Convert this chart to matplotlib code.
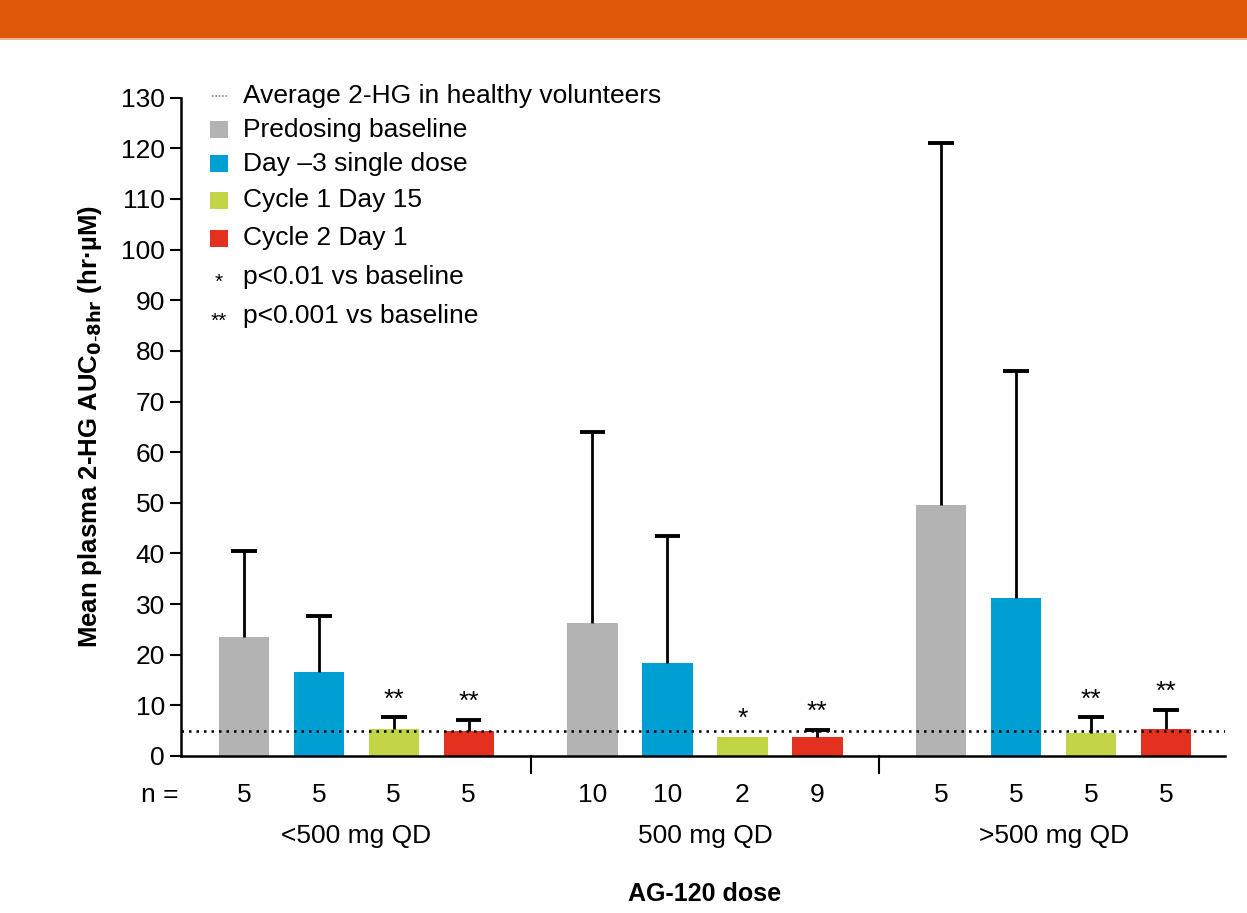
import numpy as np
import matplotlib.pyplot as plt
from matplotlib.patches import Rectangle

plt.rcParams['font.family'] = ['Liberation Sans', 'DejaVu Sans']
plt.rcParams['mathtext.default'] = 'regular'

groups = ["<500 mg QD", "500 mg QD", ">500 mg QD"]
series = ["Predosing baseline", "Day \u20133 single dose", "Cycle 1 Day 15", "Cycle 2 Day 1"]
colors = ["#B3B3B3", "#009FD3", "#C3D546", "#E3301F"]

# mean values per series (rows) for each dose group (columns)
means = [
    [23.5, 26.2, 49.5],
    [16.5, 18.3, 31.2],
    [5.3, 3.7, 4.6],
    [4.9, 3.7, 5.3],
]
# upper end of error bars (None = no bar drawn)
upper = [
    [40.5, 64.0, 121.0],
    [27.7, 43.4, 76.0],
    [7.6, None, 7.6],
    [7.2, 5.2, 9.1],
]
n_counts = [
    [5, 10, 5],
    [5, 10, 5],
    [5, 2, 5],
    [5, 9, 5],
]
signif = [
    ["", "", ""],
    ["", "", ""],
    ["**", "*", "**"],
    ["**", "**", "**"],
]
healthy_avg = 4.9

group_gap = 4.65
width = 0.67
cap = 0.17

fig = plt.figure(figsize=(12.47, 9.13), dpi=100)
# orange banner at the top
fig.patches.append(Rectangle((0, 1 - 38 / 913), 1, 38 / 913, transform=fig.transFigure,
                             facecolor="#E0590B", edgecolor="none"))
fig.patches.append(Rectangle((0, 1 - 40 / 913), 1, 2 / 913, transform=fig.transFigure,
                             facecolor="#F2B48C", edgecolor="none"))

ax = fig.add_axes([0.145, 0.172, 0.837, 0.721])

for i, (name, col) in enumerate(zip(series, colors)):
    x = np.arange(3) * group_gap + i
    ax.bar(x, means[i], width=width, color=col, zorder=2)
    for g in range(3):
        top = upper[i][g]
        if top is not None:
            ax.vlines(x[g], means[i][g], top, color="black", linewidth=2, zorder=3)
            ax.hlines(top, x[g] - cap, x[g] + cap, color="black", linewidth=2.8, zorder=3)
        else:
            top = means[i][g]
        s = signif[i][g]
        if s:
            ax.text(x[g], top + 1.2, s, ha="center", va="bottom", fontsize=19)
        ax.text(x[g], -7.8, str(n_counts[i][g]), ha="center", va="center",
                fontsize=19, clip_on=False)

ax.axhline(healthy_avg, color="black", linestyle=(0, (1, 2)), linewidth=1.8, zorder=4)

ax.set_xlim(-0.84, 13.08)
ax.set_ylim(0, 130)
ax.set_yticks(np.arange(0, 131, 10))
ax.tick_params(axis="y", labelsize=19, length=8, width=1.5, direction="out")
ax.set_xticks([])
for side in ["top", "right"]:
    ax.spines[side].set_visible(False)
for side in ["left", "bottom"]:
    ax.spines[side].set_linewidth(1.8)

# separators between dose groups
for sep in [3.825, 8.475]:
    ax.plot([sep, sep], [0, -3.4], color="black", linewidth=1.5, clip_on=False)

ax.text(-0.84 - 0.03, -7.8, "n =", ha="right", va="center", fontsize=19, clip_on=False)
for g, name in enumerate(groups):
    ax.text(g * group_gap + 1.5, -15.8, name, ha="center", va="center",
            fontsize=19, clip_on=False)
ax.text(group_gap + 1.5, -27.2, "AG-120 dose", ha="center", va="center",
        fontsize=18, fontweight="bold", clip_on=False)

ax.set_ylabel("Mean plasma 2-HG AUC$_{\\mathbf{0\\text{-}8hr}}$ (hr\u00b7\u00b5M)",
              fontsize=18.5, fontweight="bold", labelpad=12)

# legend drawn by hand
lx, tx = -0.33, -0.01
rows = [130.4, 123.7, 117.0, 109.7, 102.2, 94.5, 86.8]
ax.plot([lx - 0.1, lx + 0.1], [rows[0]] * 2, color="#888888", linestyle=(0, (1, 1)),
        linewidth=1.2, clip_on=False)
for r, col in zip(rows[1:5], colors):
    ax.add_patch(Rectangle((lx - 0.12, r - 1.7), 0.24, 3.4, facecolor=col,
                           edgecolor="none", clip_on=False))
labels = ["Average 2-HG in healthy volunteers"] + series + ["p<0.01 vs baseline",
                                                             "p<0.001 vs baseline"]
for r, lab in zip(rows, labels):
    ax.text(tx, r, lab, ha="left", va="center", fontsize=19, clip_on=False)
ax.text(lx, rows[5] - 1.0, "*", ha="center", va="center", fontsize=15)
ax.text(lx, rows[6] - 1.0, "**", ha="center", va="center", fontsize=15)

fig.savefig("out.png", dpi=100)
